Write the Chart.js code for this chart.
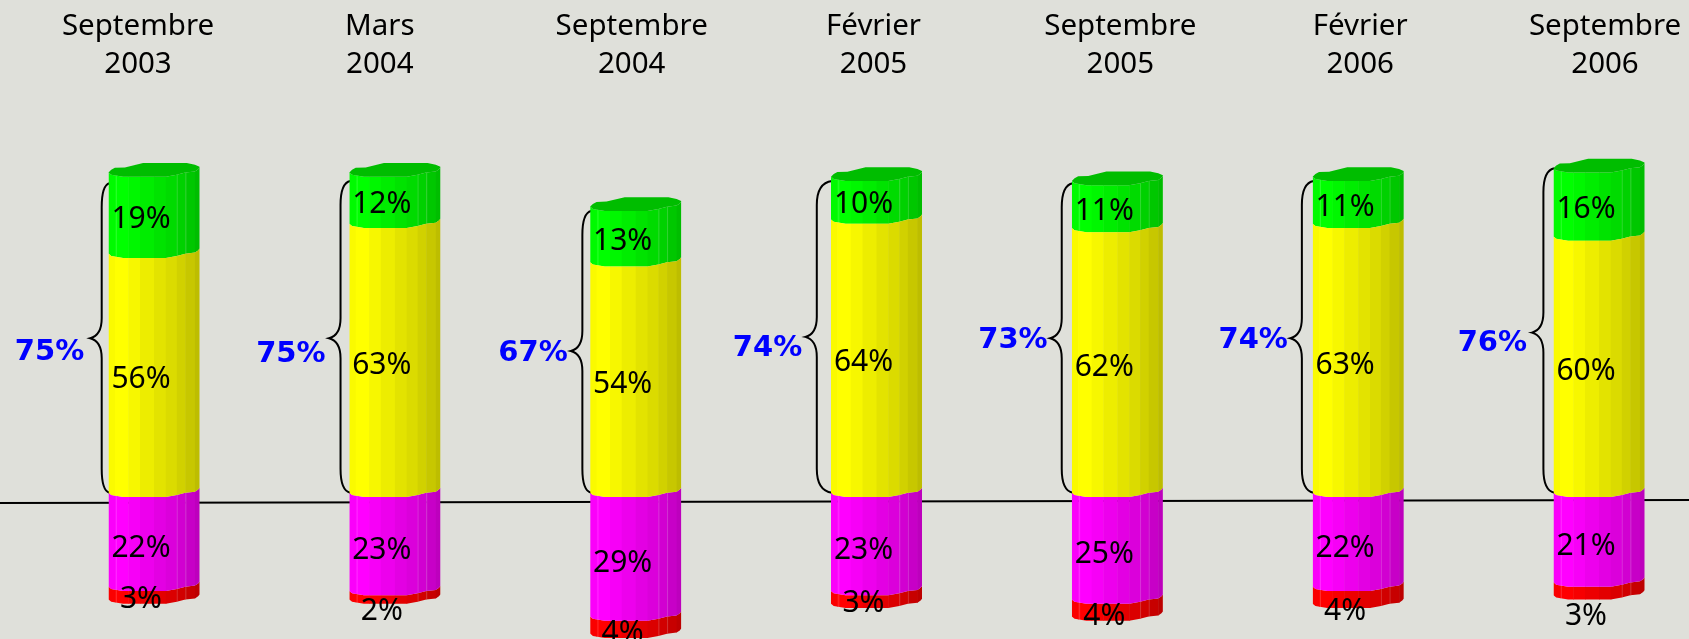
<!DOCTYPE html>
<html lang="fr">
<head>
<meta charset="utf-8">
<title>Septembre 2003 - Septembre 2006</title>
<script src="https://cdn.jsdelivr.net/npm/chart.js@4"></script>
<style>
  html, body { margin: 0; padding: 0; background: #dfe0da; overflow: hidden; }
  canvas { display: block; }
</style>
</head>
<body>
<canvas id="graphique" width="1689" height="639"></canvas>
<script>
// Vagues d'enquete (une ligne par mois, une par annee)
const mois = ['Septembre', 'Mars', 'Septembre', 'Février', 'Septembre', 'Février', 'Septembre'];
const annees = ['2003', '2004', '2004', '2005', '2005', '2006', '2006'];

// Pourcentages par segment
const vert = [19, 12, 13, 10, 11, 11, 16];
const jaune = [56, 63, 54, 64, 62, 63, 60];
const rose = [22, 23, 29, 23, 25, 22, 21];
const rouge = [3, 2, 4, 3, 4, 4, 3];

// Totaux en bleu, haut et pointe lus pour chaque accolade
const totaux = [75, 75, 67, 74, 73, 74, 76];
const hautAccolade = [73.5, 74, 67, 74, 73.5, 74, 77];
const pointeAccolade = [37.2, 37.2, 34.2, 37.5, 37.2, 37.2, 38.5];

// Ligne de base legerement inclinee, en valeur de l'axe y (gauche, droite)
const ligneBase = [-1.4, -0.7];

// Decalages de mise en page (px), pas des donnees
const decalageTitre = [-16, -15, -4, -3, 3, 2, 6];
const decalageTotalX = [-104.5, -104, -102.6, -109, -104.4, -105, -106.6];
const decalageTotalY = [14, 16, 3, 12, 2, 2, 11];
const decalageDos = [0, -2, -1, -7.4, -3.3, -4, -3.3];
const decalageRouge = [0, 10, 2, 0, 2, 10, 21];

// Facettes du cylindre : bornes sur la largeur et luminosite de chaque bande
const bornes = [0, .07, .217, .346, .5, .63, .75, .845, .95, 1];
const lumiere = [.98, 1, .97, .93, .89, .86, .82, .78, .74];
// Profil du bord (t, decalage vertical)
const profil = [[0, -4.3], [.03, -2], [.16, 0], [.63, 0], [.75, -2], [.845, -4.2], [.95, -5.3], [.985, -7.5], [1, -9.3]];
// Dessus du cylindre (bord arriere)
const profilDessus = [[0, -4.3], [.03, -7], [.07, -9], [.18, -9.3], [.38, -13.7], [.86, -13.7], [.95, -12], [1, -10]];

function teinte(rgb, k) {
    return `rgb(${rgb.map(c => Math.round(c * k)).join(',')})`;
}

function tracerProfil(ctx, gauche, largeur, y, points, inverse) {
    const pts = inverse ? [...points].reverse() : points;
    pts.forEach(p => ctx.lineTo(gauche + p[0] * largeur, y + p[1]));
}

// Peint un segment de barre en cylindre a facettes
function peindreSegment(ctx, el, rgb, avecDessus) {
    const gauche = el.x - el.width / 2;
    const haut = Math.min(el.y, el.base);
    const bas = Math.max(el.y, el.base);

    ctx.save();
    ctx.beginPath();
    tracerProfil(ctx, gauche, el.width, haut, profil, false);
    tracerProfil(ctx, gauche, el.width, bas, profil, true);
    ctx.closePath();
    ctx.clip();
    lumiere.forEach((k, i) => {
        ctx.fillStyle = teinte(rgb, k);
        const x0 = gauche + bornes[i] * el.width;
        const x1 = gauche + bornes[i + 1] * el.width;
        ctx.fillRect(x0, haut - 15, x1 - x0 + .5, bas - haut + 20);
    });
    // filets clairs entre certaines facettes
    if (rgb[0] === 0 || rgb[1] === 0) {
        ctx.fillStyle = 'rgba(255,255,255,0.18)';
        [.08, .75, .845].forEach(t => ctx.fillRect(gauche + t * el.width, haut - 15, 1, bas - haut + 20));
    }
    ctx.restore();

    if (avecDessus) {
        ctx.beginPath();
        tracerProfil(ctx, gauche, el.width, haut, profil, false);
        tracerProfil(ctx, gauche, el.width, haut, profilDessus, true);
        ctx.closePath();
        ctx.fillStyle = teinte(rgb, .74);
        ctx.fill();
    }
}

function tracerAccolade(ctx, x, dos, yHaut, pointe, yBas) {
    const bout = dos - 11.5;
    ctx.beginPath();
    ctx.moveTo(x, yHaut);
    ctx.quadraticCurveTo(dos, yHaut + 2, dos, yHaut + 24);
    ctx.lineTo(dos, pointe - 20);
    ctx.quadraticCurveTo(dos, pointe - 3, bout, pointe);
    ctx.quadraticCurveTo(dos, pointe + 3, dos, pointe + 20);
    ctx.lineTo(dos, yBas - 24);
    ctx.quadraticCurveTo(dos, yBas - 2, x, yBas);
    ctx.stroke();
}

const couleurs = { '#00ff00': [0, 255, 0], '#ffff00': [255, 255, 0], '#ff00ff': [255, 0, 255], '#ff0000': [255, 0, 0] };

const cylindres = {
    id: 'cylindres',
    beforeDatasetsDraw(chart) {
        const { ctx, scales: { y }, width } = chart;
        const barres = chart.getDatasetMeta(0).data;
        ctx.save();
        // ligne de base, derriere les barres
        ctx.strokeStyle = '#000';
        ctx.lineWidth = 2;
        ctx.beginPath();
        ctx.moveTo(0, y.getPixelForValue(ligneBase[0]));
        ctx.lineTo(width, y.getPixelForValue(ligneBase[1]));
        ctx.stroke();
        // accolades
        barres.forEach((el, i) => {
            tracerAccolade(ctx, el.x - 44.5, el.x - 52.3 + decalageDos[i],
                y.getPixelForValue(hautAccolade[i]), y.getPixelForValue(pointeAccolade[i]), y.getPixelForValue(1));
        });
        ctx.restore();
    },
    beforeDatasetDraw(chart, args) {
        const meta = chart.getDatasetMeta(args.index);
        const rgb = couleurs[chart.data.datasets[args.index].backgroundColor];
        meta.data.forEach(el => peindreSegment(chart.ctx, el, rgb, args.index === 1));
        return false; // on remplace le rectangle par defaut
    },
    afterDatasetsDraw(chart) {
        const { ctx, scales: { x, y } } = chart;
        ctx.save();
        ctx.textAlign = 'center';
        ctx.textBaseline = 'middle';

        // titres
        ctx.fillStyle = '#000';
        ctx.font = '29.5px "Noto Sans"';
        mois.forEach((m, i) => {
            const px = x.getPixelForValue(i) + decalageTitre[i];
            ctx.fillText(m, px, 27);
            ctx.fillText(annees[i], px, 65);
        });

        // valeurs dans les segments
        ctx.font = '30px "Noto Sans"';
        chart.data.datasets.forEach((ds, d) => {
            chart.getDatasetMeta(d).data.forEach((el, i) => {
                const dy = d === 3 ? decalageRouge[i] + 2 : (d === 2 ? 4.5 : 2.5);
                ctx.fillText(Math.abs(ds.data[i]) + '%', el.x - 13, (el.y + el.base) / 2 + dy);
            });
        });

        // totaux en bleu
        ctx.fillStyle = '#0000ff';
        ctx.font = 'bold 29px "DejaVu Sans"';
        totaux.forEach((t, i) => {
            ctx.fillText(t + '%', x.getPixelForValue(i) + decalageTotalX[i],
                y.getPixelForValue(pointeAccolade[i]) + decalageTotalY[i]);
        });
        ctx.restore();
    }
};

new Chart(document.getElementById('graphique'), {
    type: 'bar',
    data: {
        labels: mois.map((m, i) => [m, annees[i]]),
        datasets: [
            { label: 'Jaune', data: jaune, backgroundColor: '#ffff00' },
            { label: 'Vert', data: vert, backgroundColor: '#00ff00' },
            { label: 'Rose', data: rose.map(v => -v), backgroundColor: '#ff00ff' },
            { label: 'Rouge', data: rouge.map(v => -v), backgroundColor: '#ff0000' }
        ]
    },
    options: {
        responsive: false,
        animation: false,
        layout: { padding: { left: 154, right: 90, top: 0, bottom: 0 } },
        datasets: { bar: { barThickness: 91 } },
        plugins: { legend: { display: false }, tooltip: { enabled: false } },
        scales: {
            x: { display: false, stacked: true, offset: false },
            y: { display: false, stacked: true, min: -33.26, max: 116.4 }
        }
    },
    plugins: [cylindres]
});
</script>
</body>
</html>
